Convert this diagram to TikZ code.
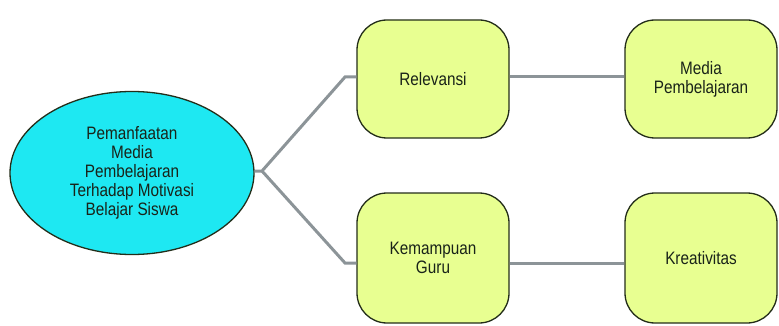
\documentclass[tikz,border=0pt]{standalone}
\usepackage{fontspec}
\setmainfont[FakeStretch=0.85]{Liberation Sans}
\usetikzlibrary{shapes.geometric}
\definecolor{cyanfill}{RGB}{30,232,242}
\definecolor{limefill}{RGB}{232,255,145}
\definecolor{edgedark}{RGB}{35,45,25}
\definecolor{linkgrey}{RGB}{140,148,152}
\definecolor{txtdark}{RGB}{25,35,25}
\tikzset{
  mainnode/.style={ellipse, draw=edgedark, line width=1.3pt, fill=cyanfill,
    minimum width=244pt, minimum height=163pt, inner sep=0pt, align=center,
    font=\fontsize{18pt}{19pt}\selectfont, text=txtdark},
  subbox/.style={rectangle, rounded corners=30pt, draw=edgedark, line width=1.3pt, fill=limefill,
    minimum width=152pt, minimum height=118pt, inner sep=0pt, align=center,
    font=\fontsize{18pt}{19pt}\selectfont, text=txtdark},
  lowbox/.style={subbox, minimum height=130pt},
  link/.style={draw=linkgrey, line width=3pt}
}
\begin{document}
\begin{tikzpicture}[x=1pt,y=-1pt]
\useasboundingbox (0,0) rectangle (779,326);
\node[mainnode] (m) at (132,173) {Pemanfaatan\\Media\\Pembelajaran\\Terhadap Motivasi\\Belajar Siswa};
\node[subbox] (r) at (433,79) {Relevansi};
\node[subbox] (mp) at (701,79) {Media\\Pembelajaran};
\node[lowbox] (k) at (433,258) {Kemampuan\\Guru};
\node[lowbox] (kr) at (701,258) {Kreativitas};
\coordinate (j) at (262,171);
\coordinate (ju) at (345,77);
\coordinate (jd) at (345,263);
\draw[link] (m.east |- j) -- (j) -- (ju) -- (r.west |- ju);
\draw[link] (j) -- (jd) -- (k.west |- jd);
\draw[link] (r.east |- ju) -- (mp.west |- ju);
\draw[link] (k.east |- jd) -- (kr.west |- jd);
\end{tikzpicture}
\end{document}
